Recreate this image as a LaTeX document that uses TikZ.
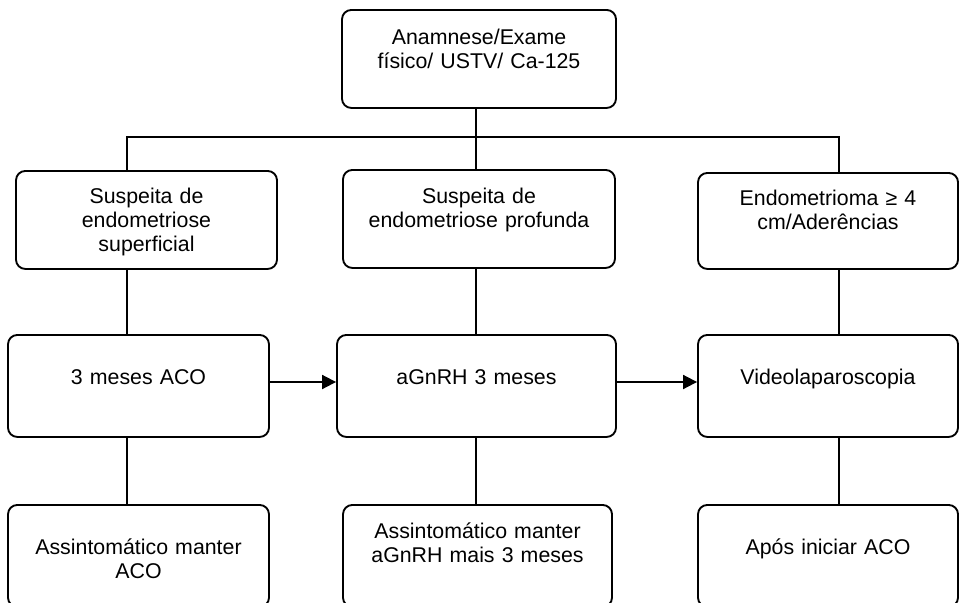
\documentclass[tikz,border=0pt]{standalone}
\usepackage{fontspec}
\setmainfont{Liberation Sans}
\usepackage{tikz}
\usetikzlibrary{arrows.meta,positioning,calc}
\tikzset{
  stepbox/.style={draw=black, line width=1.4pt, rounded corners=7pt, fill=white, anchor=north, align=center, inner xsep=0pt, inner ysep=0pt, font=\fontsize{16pt}{18pt}\selectfont},
  link/.style={line width=1.4pt, draw=black},
  arrowlink/.style={-{Triangle[length=10.5pt, width=10.5pt]}, line width=1.4pt, draw=black}
}
\begin{document}
\begin{tikzpicture}[x=0.75pt, y=-0.75pt]
  \useasboundingbox[fill=white] (0,0) rectangle (960,603);
  % first box
  \node[stepbox, text width=205.5pt, text height=26.25pt, text depth=47.25pt] (exam) at (479,9) {Anamnese/Exame\\físico/ USTV/ Ca-125};
  % suspicion row
  \node[stepbox, text width=195.75pt, text height=24.75pt, text depth=48.75pt] (superf) at (146.5,170) {Suspeita de\\endometriose\\superficial};
  \node[stepbox, text width=204pt, text height=25.5pt, text depth=48pt] (deep) at (479,169) {Suspeita de\\endometriose profunda};
  \node[stepbox, text width=195pt, text height=24.75pt, text depth=47.25pt] (endo) at (828,172) {Endometrioma ≥ 4\\cm/Aderências};
  % treatment row
  \node[stepbox, text width=195.75pt, text height=37.5pt, text depth=39pt] (aco) at (138.5,334) {3 meses ACO};
  \node[stepbox, text width=209.25pt, text height=37.5pt, text depth=39pt] (agnrh) at (476.5,334) {aGnRH 3 meses};
  \node[stepbox, text width=195pt, text height=37.5pt, text depth=39pt] (video) at (828,334) {Videolaparoscopia};
  % follow-up row
  \node[stepbox, text width=195.75pt, text height=37.5pt, text depth=39pt] (keepaco) at (138.5,504) {Assintomático manter\\ACO};
  \node[stepbox, text width=201.75pt, text height=25.5pt, text depth=51pt] (keepagn) at (477.5,504) {Assintomático manter\\aGnRH mais 3 meses};
  \node[stepbox, text width=195pt, text height=37.5pt, text depth=39pt] (after) at (828,504) {Após iniciar ACO};
  % connectors
  \coordinate (busL) at (127,137);
  \coordinate (busM) at (476,137);
  \coordinate (busR) at (839,137);
  \coordinate (arrowrow) at (0,382);
  \draw[link] (exam.south -| busM) -- (busM);
  \draw[link] (busL |- superf.north) |- (busR) -- (busR |- endo.north);
  \draw[link] (busM) -- (busM |- deep.north);
  \draw[link] (superf.south -| busL) -- (aco.north -| busL);
  \draw[link] (deep.south -| busM) -- (agnrh.north -| busM);
  \draw[link] (endo.south -| busR) -- (video.north -| busR);
  \draw[link] (aco.south -| busL) -- (keepaco.north -| busL);
  \draw[link] (agnrh.south -| busM) -- (keepagn.north -| busM);
  \draw[link] (video.south -| busR) -- (after.north -| busR);
  \draw[arrowlink] (aco.east |- arrowrow) -- (agnrh.west |- arrowrow);
  \draw[arrowlink] (agnrh.east |- arrowrow) -- (video.west |- arrowrow);
\end{tikzpicture}
\end{document}
